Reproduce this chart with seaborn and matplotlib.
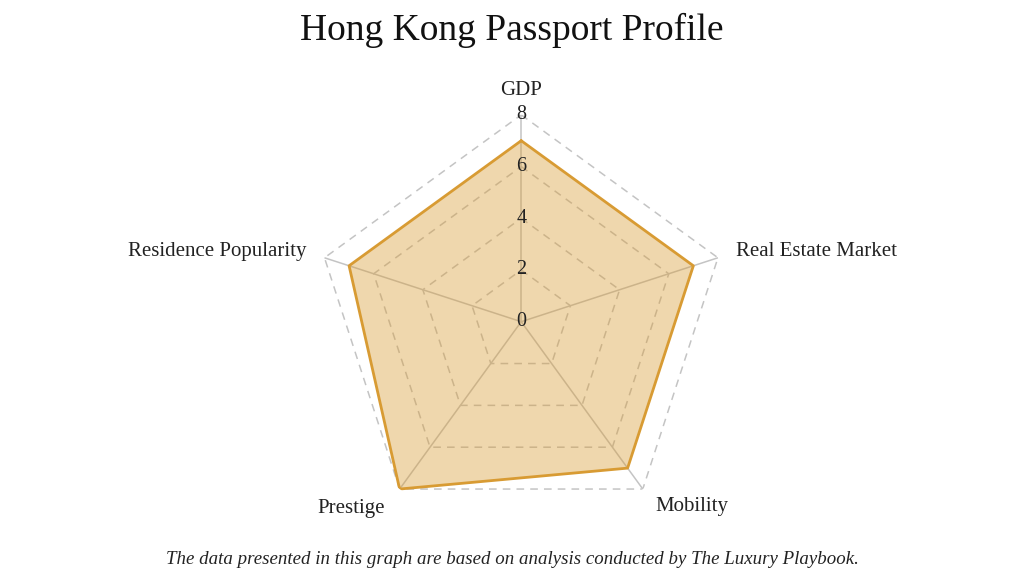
import matplotlib
matplotlib.use("Agg")
import matplotlib.pyplot as plt
import numpy as np
import seaborn as sns

categories = ["GDP", "Real Estate Market", "Mobility", "Prestige", "Residence Popularity"]
values = [7, 7, 7, 8, 7]
ring_levels = [2, 4, 6, 8]
radial_ticks = [0, 2, 4, 6, 8]

sns.set_theme(style="white")
plt.rcParams["font.family"] = ["Liberation Serif", "DejaVu Serif"]

line_color = "#D89B33"
grid_color = "#C4C4C4"

n = len(categories)
angles = np.linspace(0, 2 * np.pi, n, endpoint=False)
closed_angles = np.append(angles, angles[0])
closed_values = np.append(values, values[0])

fig = plt.figure(figsize=(10.24, 5.76), dpi=100)
ax = fig.add_axes([0.307, 0.082, 0.404, 0.719], projection="polar")
ax.set_theta_offset(np.pi / 2)
ax.set_theta_direction(-1)
ax.set_ylim(0, 8)
ax.grid(False)
ax.spines["polar"].set_visible(False)
ax.set_xticks([])
ax.set_yticks([])

# polygon rings
for lvl in ring_levels:
    ax.plot(closed_angles, [lvl] * (n + 1), color=grid_color, lw=1.1,
            ls=(0, (5, 4)), zorder=1)
# spokes
for a in angles:
    ax.plot([a, a], [0, 8], color=grid_color, lw=1.1, zorder=1)

ax.fill(closed_angles, closed_values, color=line_color, alpha=0.4, zorder=2, lw=0)
ax.plot(closed_angles, closed_values, color=line_color, lw=2, zorder=3)

for t in radial_ticks:
    ax.text(0, t, str(t), ha="center", va="center", fontsize=14.5, color="#222222", zorder=4)

label_pos = [
    (0, 8.95, "center", "center"),
    (angles[1], 8.75, "left", "center"),
    (angles[2], 8.85, "left", "center"),
    (angles[3], 8.95, "right", "center"),
    (angles[4], 8.75, "right", "center"),
]
for cat, (a, r, ha, va) in zip(categories, label_pos):
    ax.text(a, r, cat, ha=ha, va=va, fontsize=15, color="#222222")

fig.text(0.5, 0.948, "Hong Kong Passport Profile", ha="center", va="center",
         fontsize=27, color="#111111")
fig.text(0.5, 0.028, "The data presented in this graph are based on analysis conducted by The Luxury Playbook.",
         ha="center", va="center", fontsize=13.6, style="italic", color="#222222")

fig.savefig("out.png", dpi=100)
